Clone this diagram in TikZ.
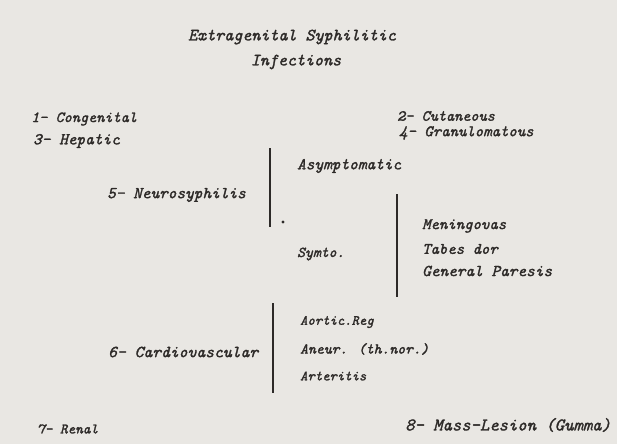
\documentclass[tikz,border=0pt]{standalone}
\usepackage{fontspec}
\newfontfamily\hand{lmmono10-italic.otf}[FakeBold=1.6]
\definecolor{paper}{RGB}{233,231,227}
\definecolor{ink}{RGB}{45,42,40}
\begin{document}
\begin{tikzpicture}[x=1pt,y=-1pt,
  lbl/.style={anchor=west,inner sep=0pt,text=ink},
  ttl/.style={inner sep=0pt,text=ink},
  fs/.style={font=\fontsize{#1}{#1}\selectfont\hand},
  bar/.style={line width=2.6pt,draw=ink}]
\fill[paper] (0,0) rectangle (617,444);
\useasboundingbox (0,0) rectangle (617,444);
\node[ttl,fs=17.2] (t1) at (292,37) {Extragenital Syphilitic};
\node[ttl,fs=17.2] (t2) at (296,62) {Infections};
\node[lbl,fs=15.5] (n1) at (31,119) {1- Congenital};
\node[lbl,fs=16.5] (n3) at (33,141) {3- Hepatic};
\node[lbl,fs=15.5] (n2) at (397,116) {2- Cutaneous};
\node[lbl,fs=16] (n4) at (399,133) {4- Granulomatous};
\node[lbl,fs=16.5] (n5) at (107,195) {5- Neurosyphilis};
\node[lbl,fs=16.5] (asy) at (297,166) {Asymptomatic};
\node[lbl,fs=15] (sym) at (297,254) {Symto.};
\node[lbl,fs=16] (men) at (422,226) {Meningovas};
\node[lbl,fs=16] (tab) at (422,249) {Tabes dor};
\node[lbl,fs=16.5] (gen) at (422,271) {General Paresis};
\node[lbl,fs=16.8] (n6) at (108,352) {6- Cardiovascular};
\node[lbl,fs=14] (aor) at (300,322) {Aortic.Reg};
\node[lbl,fs=15] (ane) at (300,349) {Aneur. (th.nor.)};
\node[lbl,fs=14] (art) at (300,376) {Arteritis};
\node[lbl,fs=14.5] (n7) at (37,429) {7- Renal};
\node[lbl,fs=17.8] (n8) at (405,425) {8- Mass-Lesion (Gumma)};
\coordinate (b1t) at (270,148); \coordinate (b1b) at (270,227);
\coordinate (b2t) at (397,194); \coordinate (b2b) at (397,297);
\coordinate (b3t) at (273,303); \coordinate (b3b) at (273,393);
\draw[bar] (b1t) -- (b1b);
\draw[bar] (b2t) -- (b2b);
\draw[bar] (b3t) -- (b3b);
\fill[ink] (283,222) circle (1.6pt);
\end{tikzpicture}
\end{document}
